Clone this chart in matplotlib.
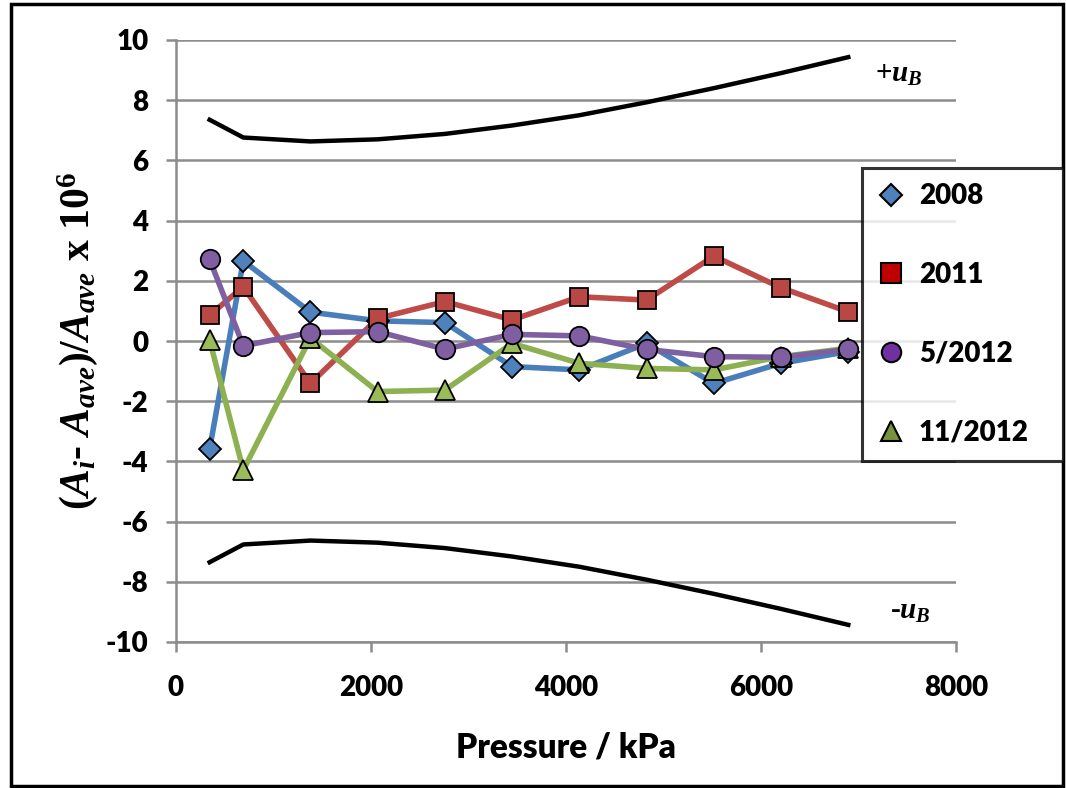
import matplotlib
matplotlib.use("Agg")
import matplotlib.pyplot as plt
from matplotlib.lines import Line2D
from matplotlib.patches import Rectangle

# ---- data ----
pressure = [345, 690, 1379, 2068, 2758, 3447, 4137, 4826, 5516, 6205, 6895]
s2008 = [-3.59, 2.66, 0.96, 0.67, 0.61, -0.85, -0.96, -0.08, -1.41, -0.74, -0.35]
s2011 = [0.86, 1.80, -1.41, 0.75, 1.31, 0.70, 1.47, 1.36, 2.82, 1.77, 0.97]
s5_2012 = [2.71, -0.16, 0.28, 0.31, -0.27, 0.22, 0.17, -0.28, -0.52, -0.54, -0.28]
s11_2012 = [0.03, -4.29, 0.10, -1.68, -1.63, -0.08, -0.74, -0.91, -0.96, -0.52, -0.24]
u_B = [7.35, 6.76, 6.63, 6.70, 6.88, 7.16, 7.50, 7.93, 8.40, 8.90, 9.43]
series_labels = ["2008", "2011", "5/2012", "11/2012"]
x_ticks = [0, 2000, 4000, 6000, 8000]
y_ticks = [-10, -8, -6, -4, -2, 0, 2, 4, 6, 8, 10]

plt.rcParams['axes.unicode_minus'] = False
plt.rcParams['mathtext.fontset'] = 'custom'
plt.rcParams['mathtext.rm'] = 'Liberation Serif:bold'
plt.rcParams['mathtext.it'] = 'Liberation Serif:italic:bold'
plt.rcParams['mathtext.bf'] = 'Liberation Serif:bold'

W, H = 1066, 788
fig = plt.figure(figsize=(W / 100, H / 100), dpi=100)
ax = fig.add_axes([176 / W, 1 - 642 / H, (956 - 176) / W, (642 - 40) / H])

grid_c = '#8c8c8c'
ax.set_xlim(0, 8000)
ax.set_ylim(-10, 10)
ax.set_yticks(y_ticks)
ax.set_xticks(x_ticks)
ax.yaxis.grid(True, color=grid_c, linewidth=1.8)
ax.set_axisbelow(True)
for s in ['top', 'right']:
    ax.spines[s].set_visible(False)
for s in ['left', 'bottom']:
    ax.spines[s].set_color(grid_c)
    ax.spines[s].set_linewidth(1.8)
ax.tick_params(axis='both', direction='out', color=grid_c, width=1.8, length=7,
               labelsize=20)
ax.tick_params(axis='y', pad=13)
ax.tick_params(axis='x', pad=17)
for lab in ax.get_xticklabels() + ax.get_yticklabels():
    lab.set_fontfamily('Lato')
    lab.set_fontweight('heavy')

# uncertainty bounds
ax.plot(pressure, u_B, color='black', linewidth=3.2, zorder=2)
ax.plot(pressure, [-v for v in u_B], color='black', linewidth=3.2, zorder=2)

lw = 4.0
ms = 13
ax.plot(pressure, s2008, color='#4a7ebb', linewidth=lw, marker='D', markersize=ms * 0.85,
        markerfacecolor='#4f81bd', markeredgecolor='black', markeredgewidth=1.3, zorder=3)
ax.plot(pressure, s2011, color='#be4b48', linewidth=lw, marker='s', markersize=ms,
        markerfacecolor='#b94744', markeredgecolor='black', markeredgewidth=1.3, zorder=3)
ax.plot(pressure, s5_2012, color='#7e5fa0', linewidth=lw, marker='o', markersize=ms + 1,
        markerfacecolor='#7f5fa1', markeredgecolor='black', markeredgewidth=1.3, zorder=4)
ax.plot(pressure, s11_2012, color='#8db150', linewidth=lw, marker='^', markersize=ms + 2,
        markerfacecolor='#9bbb59', markeredgecolor='black', markeredgewidth=1.3, zorder=3)

ax.text(7170, 8.84, r'+$u_B$', fontsize=21, ha='left', va='center', clip_on=False,
        fontfamily='Liberation Serif', fontweight='bold')
ax.text(7320, -9.0, r'-$u_B$', fontsize=21, ha='left', va='center', clip_on=False,
        fontfamily='Liberation Serif', fontweight='bold')

ax.set_xlabel('Pressure / kPa', fontfamily='Lato', fontweight='heavy', fontsize=24, labelpad=22)
ax.set_ylabel(r'($A_i$- $A_{ave}$)/$A_{ave}$ x 10$^6$', fontsize=30, labelpad=4,
              fontfamily='Liberation Serif', fontweight='bold')

handles = [
    Line2D([], [], linestyle='none', marker='D', markersize=11, markerfacecolor='#4f81bd',
           markeredgecolor='black', markeredgewidth=1.5),
    Line2D([], [], linestyle='none', marker='s', markersize=14, markerfacecolor='#c00000',
           markeredgecolor='black', markeredgewidth=1.5),
    Line2D([], [], linestyle='none', marker='o', markersize=14, markerfacecolor='#7030a0',
           markeredgecolor='black', markeredgewidth=1.5),
    Line2D([], [], linestyle='none', marker='^', markersize=14, markerfacecolor='#77933c',
           markeredgecolor='black', markeredgewidth=1.5),
]
leg = fig.legend(handles, series_labels, loc='upper left',
                 bbox_to_anchor=(862 / W, 1 - 168 / H - 0.01, (1063 - 862) / W, 0.01),
                 mode='expand', frameon=True, fancybox=False,
                 prop={'family': 'Lato', 'weight': 'heavy', 'size': 20},
                 labelspacing=1.9, handlelength=1.0, handletextpad=0.5,
                 borderpad=0.55, borderaxespad=0.0)
leg.get_frame().set_edgecolor('black')
leg.get_frame().set_linewidth(2.2)

# outer border
fig.patches.append(Rectangle((11 / W, 2 / H), (1063 - 11) / W, (784 - 2) / H,
                             transform=fig.transFigure, fill=False, edgecolor='black',
                             linewidth=2.5))

fig.savefig('out.png', dpi=100)
